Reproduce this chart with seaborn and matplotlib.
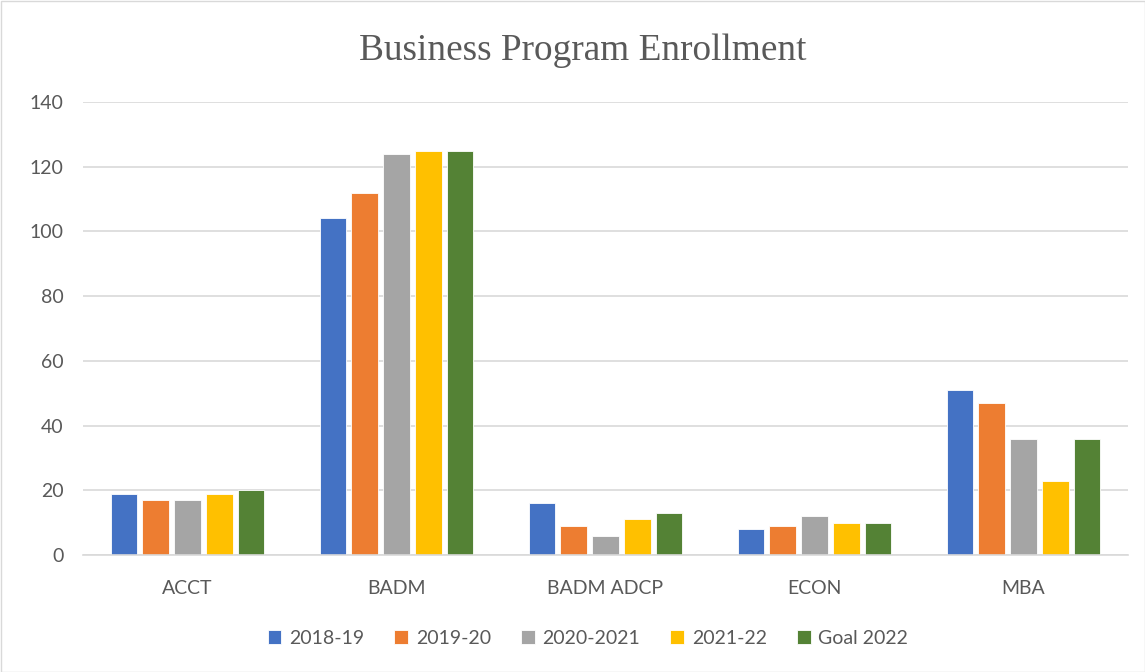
import matplotlib
matplotlib.use("Agg")
import matplotlib.pyplot as plt
import seaborn as sns
import pandas as pd

categories = ["ACCT", "BADM", "BADM ADCP", "ECON", "MBA"]
series_names = ["2018-19", "2019-20", "2020-2021", "2021-22", "Goal 2022"]
v_2018_19 = [19, 104, 16, 8, 51]
v_2019_20 = [17, 112, 9, 9, 47]
v_2020_2021 = [17, 124, 6, 12, 36]
v_2021_22 = [19, 125, 11, 10, 23]
v_goal_2022 = [20, 125, 13, 10, 36]
colors = ["#4472C4", "#ED7D31", "#A5A5A5", "#FFC000", "#548235"]

rows = []
for name, vals in zip(series_names, [v_2018_19, v_2019_20, v_2020_2021, v_2021_22, v_goal_2022]):
    for c, v in zip(categories, vals):
        rows.append({"Program": c, "Year": name, "Enrollment": v})
df = pd.DataFrame(rows)

sns.set_theme(style="white")
plt.rcParams['font.family'] = ['Lato', 'DejaVu Sans']

fig = plt.figure(figsize=(11.45, 6.72), dpi=100)
ax = fig.add_axes([83/1145, 1 - 555/672, (1128-83)/1145, (555-102)/672])

sns.barplot(data=df, x="Program", y="Enrollment", hue="Year", order=categories,
            hue_order=series_names, palette=colors, width=0.76, gap=0.16,
            ax=ax, saturation=1, edgecolor="white", linewidth=0.6)

ax.set_ylim(0, 140)
ax.set_xlim(-0.5, 4.5)
ax.set_yticks(range(0, 141, 20))
ax.grid(axis="y", color="#D9D9D9", linewidth=1.2)
ax.set_axisbelow(True)
for s in ["top", "right", "left"]:
    ax.spines[s].set_visible(False)
ax.spines["bottom"].set_color("#D9D9D9")
ax.spines["bottom"].set_linewidth(1.2)
ax.set_xlabel("")
ax.set_ylabel("")
ax.tick_params(axis="both", length=0, labelsize=14, labelcolor="#595959")
ax.tick_params(axis="x", pad=18)
ax.tick_params(axis="y", pad=14)

fig.text(583/1145, 1 - 51/672, "Business Program Enrollment", ha="center", va="center",
         fontsize=26.8, color="#595959", family=["Liberation Serif", "DejaVu Serif"])

ax.legend_.remove()
handles, labels = ax.get_legend_handles_labels()
fig.legend(handles, labels, loc="center", bbox_to_anchor=(588/1145, 1 - 638/672), ncol=5,
           frameon=False, fontsize=14, labelcolor="#595959", handlelength=0.7, handleheight=0.7,
           handletextpad=0.4, columnspacing=1.55)

fig.patches.append(plt.Rectangle((0.5/1145, 0.5/672), 1 - 1/1145, 1 - 1/672, transform=fig.transFigure,
                                 fill=False, edgecolor="#D9D9D9", linewidth=1))
fig.savefig("out.png", dpi=100)
